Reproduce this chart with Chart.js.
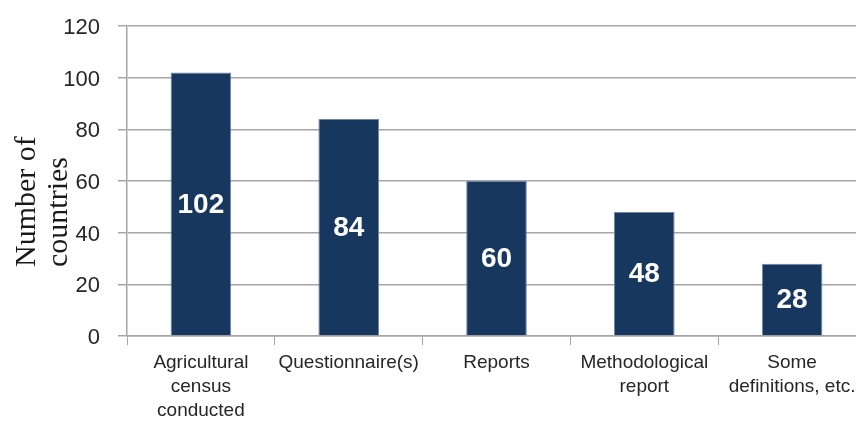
<!DOCTYPE html>
<html>
<head>
<meta charset="utf-8">
<script src="https://cdn.jsdelivr.net/npm/chart.js@4/dist/chart.umd.min.js"></script>
<style>
    html, body { margin: 0; padding: 0; background: #fff; overflow: hidden; }
    #wrap { width: 856px; height: 421px; overflow: hidden; }
    canvas { display: block; }
</style>
</head>
<body>
<div id="wrap"><canvas id="chart" width="866" height="421"></canvas></div>
<script>
// Chart data
const categories = [
    ['Agricultural', 'census', 'conducted'],
    ['Questionnaire(s)'],
    ['Reports'],
    ['Methodological', 'report'],
    ['Some', 'definitions, etc.']
];
const countries = [102, 84, 60, 48, 28];
const yTicks = [0, 20, 40, 60, 80, 100, 120];
const axisTitle = ['Number of', 'countries'];

// White value labels in the middle of each bar
const barLabels = {
    id: 'barLabels',
    afterDatasetsDraw(chart) {
        const ctx = chart.ctx;
        ctx.save();
        ctx.fillStyle = '#ffffff';
        ctx.font = 'bold 28px "Liberation Sans", Arial, sans-serif';
        ctx.textAlign = 'center';
        ctx.textBaseline = 'middle';
        chart.getDatasetMeta(0).data.forEach((bar, i) => {
            ctx.fillText(String(countries[i]), bar.x, (bar.y + bar.base) / 2 + 1);
        });
        ctx.restore();
    }
};

// Rotated serif axis title, aligned to its bottom end
const sideTitle = {
    id: 'sideTitle',
    afterDraw(chart) {
        const ctx = chart.ctx;
        ctx.save();
        ctx.fillStyle = '#1a1a1a';
        ctx.font = '30px "Liberation Serif", "Times New Roman", serif';
        ctx.textAlign = 'left';
        ctx.textBaseline = 'alphabetic';
        ctx.translate(35, chart.chartArea.bottom - 69);
        ctx.rotate(-Math.PI / 2);
        axisTitle.forEach((line, i) => ctx.fillText(line, 0, i * 32));
        ctx.restore();
    }
};

new Chart(document.getElementById('chart'), {
    type: 'bar',
    data: {
        labels: categories,
        datasets: [{
            data: countries,
            backgroundColor: '#17375e',
            borderColor: '#6f86a6',
            borderWidth: 1,
            barPercentage: 0.41,
            categoryPercentage: 1.0
        }]
    },
    options: {
        responsive: false,
        animation: false,
        layout: { padding: { top: 26, left: 0, right: 0, bottom: 0 } },
        plugins: {
            legend: { display: false },
            tooltip: { enabled: false }
        },
        scales: {
            x: {
                grid: {
                    display: true,
                    drawOnChartArea: false,
                    drawTicks: true,
                    tickLength: 9,
                    color: '#a6a6a6',
                    lineWidth: 1
                },
                border: { color: '#a6a6a6', width: 1.5 },
                ticks: {
                    color: '#262626',
                    padding: 6,
                    maxRotation: 0,
                    autoSkip: false,
                    font: { family: '"Liberation Sans", Arial, sans-serif', size: 19, lineHeight: 1.26 }
                },
                afterFit(scale) {
                    scale.height = 85;
                    scale.paddingLeft = 0;
                    scale.paddingRight = 0;
                }
            },
            y: {
                min: 0,
                max: 120,
                afterBuildTicks(scale) {
                    scale.ticks = yTicks.map(v => ({ value: v }));
                },
                grid: {
                    color: '#a6a6a6',
                    lineWidth: 1.5,
                    tickLength: 9
                },
                border: { color: '#a6a6a6', width: 1.5 },
                ticks: {
                    color: '#262626',
                    padding: 18,
                    labelOffset: 2,
                    font: { family: '"Liberation Sans", Arial, sans-serif', size: 22 }
                },
                afterFit(scale) {
                    scale.width = 127;
                    scale.paddingTop = 0;
                    scale.paddingBottom = 0;
                }
            }
        }
    },
    plugins: [barLabels, sideTitle]
});
</script>
</body>
</html>
